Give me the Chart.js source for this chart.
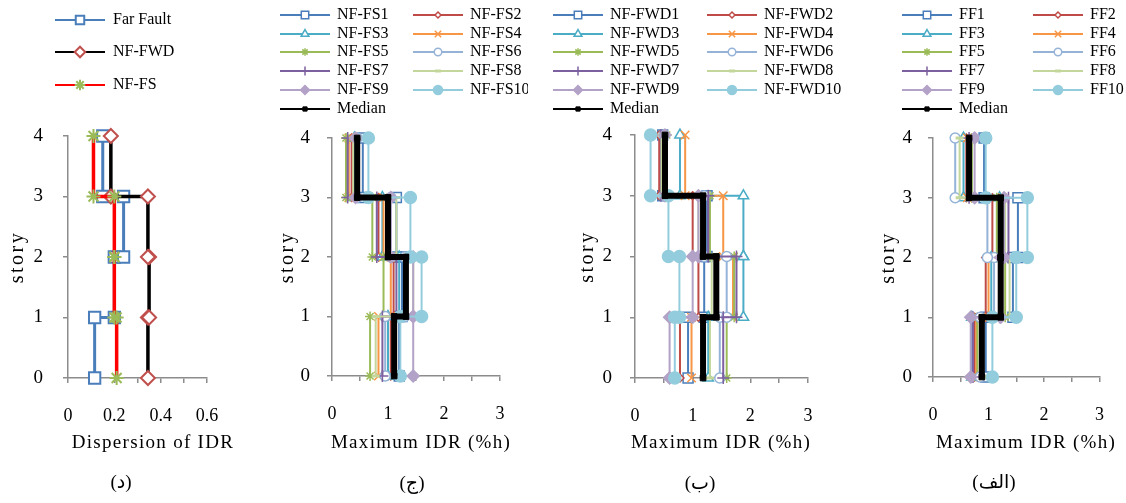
<!DOCTYPE html>
<html>
<head>
<meta charset="utf-8">
<script src="https://cdn.jsdelivr.net/npm/chart.js@4.4.0/dist/chart.umd.min.js"></script>
<style>
  body { margin: 0; background: #fff; width: 1126px; height: 503px; overflow: hidden; position: relative; }
  canvas { position: absolute; top: 0; }
</style>
</head>
<body>
<canvas id="pDisp" width="260" height="503" style="left:0px"></canvas>
<canvas id="pFS" width="290" height="503" style="left:260px"></canvas>
<canvas id="pFWD" width="310" height="503" style="left:550px"></canvas>
<canvas id="pFF" width="266" height="503" style="left:860px"></canvas>
<script>
// story levels (floor 0..4)
const stories = [0, 1, 2, 3, 4];

// panel (د): dispersion of IDR per story (story 1..4)
const dispFarFault = [0.115, 0.2, 0.24, 0.15];
const dispNFFWD = [0.345, 0.35, 0.345, 0.185];
const dispNFFS = [0.21, 0.2, 0.2, 0.11];

// panel (ج): NF-FS records, max IDR (%h) per story 1..4
const fsNames = ['NF-FS1', 'NF-FS2', 'NF-FS3', 'NF-FS4', 'NF-FS5', 'NF-FS6', 'NF-FS7', 'NF-FS8', 'NF-FS9', 'NF-FS10'];
const fsIDR = [
  [1.2, 1.25, 1.15, 0.55],
  [1.05, 1.1, 0.83, 0.35],
  [1.0, 1.2, 0.9, 0.4],
  [0.83, 1.05, 0.92, 0.3],
  [0.68, 0.92, 0.72, 0.25],
  [0.95, 1.3, 1.05, 0.45],
  [0.9, 1.15, 0.8, 0.28],
  [0.78, 1.45, 1.15, 0.38],
  [1.45, 1.45, 1.05, 0.42],
  [1.22, 1.6, 1.4, 0.65]
];
const fsMedian = [1.11, 1.32, 1.0, 0.45];

// panel (ب): NF-FWD records
const fwdNames = ['NF-FWD1', 'NF-FWD2', 'NF-FWD3', 'NF-FWD4', 'NF-FWD5', 'NF-FWD6', 'NF-FWD7', 'NF-FWD8', 'NF-FWD9', 'NF-FWD10'];
const fwdIDR = [
  [0.92, 1.2, 1.25, 0.48],
  [0.78, 1.1, 1.0, 0.42],
  [1.27, 1.88, 1.88, 0.78],
  [0.98, 1.7, 1.53, 0.87],
  [1.59, 1.72, 1.3, 0.55],
  [1.47, 1.59, 1.2, 0.5],
  [1.53, 1.76, 1.27, 0.45],
  [1.3, 1.33, 1.1, 0.46],
  [0.6, 1.0, 1.1, 0.52],
  [0.69, 0.77, 0.58, 0.27]
];
const fwdMedian = [1.18, 1.41, 1.18, 0.52];

// panel (الف): far fault records
const ffNames = ['FF1', 'FF2', 'FF3', 'FF4', 'FF5', 'FF6', 'FF7', 'FF8', 'FF9', 'FF10'];
const ffIDR = [
  [0.95, 1.44, 1.53, 0.92],
  [0.75, 0.95, 1.07, 0.6],
  [0.7, 1.05, 1.2, 0.55],
  [0.78, 1.0, 1.25, 0.62],
  [0.8, 1.3, 1.15, 0.7],
  [0.85, 1.1, 0.98, 0.4],
  [0.72, 1.2, 1.36, 0.65],
  [0.9, 1.38, 1.3, 0.48],
  [0.68, 1.22, 1.28, 0.75],
  [1.07, 1.5, 1.7, 0.95]
];
const ffMedian = [0.88, 1.22, 1.22, 0.65];

// marker / colour styles for the 10 records
const recStyles = [
  { c: '#4A7EBB', ps: 'rect', r: 7, fill: '#fff' },
  { c: '#BE4B48', ps: 'rectRot', r: 4, fill: '#fff' },
  { c: '#4BACC6', ps: 'triangle', r: 6, fill: '#fff' },
  { c: '#F79646', ps: 'crossRot', r: 6, fill: '#F79646' },
  { c: '#9BBB59', ps: 'star', r: 5, fill: '#9BBB59' },
  { c: '#95B3D7', ps: 'circle', r: 5, fill: '#fff' },
  { c: '#7D60A0', ps: 'cross', r: 6, fill: '#7D60A0' },
  { c: '#C3D69B', ps: 'line', r: 4, fill: '#C3D69B', bw: 3 },
  { c: '#B3A2C7', ps: 'rectRot', r: 6, fill: '#B3A2C7' },
  { c: '#93CDDD', ps: 'circle', r: 6, fill: '#93CDDD' }
];

const FONT = '"Liberation Serif", "Times New Roman", serif';
const AXIS = '#8c8c8c';

// story drift is constant over a story: draw it as a step profile
function stepPoints(vals) {
  const pts = [];
  vals.forEach((v, i) => {
    pts.push({ x: v, y: stories[i] });
    pts.push({ x: v, y: stories[i + 1] });
  });
  return pts;
}

// legend, axis titles (spaced like the original) and panel caption
const panelDeco = {
  id: 'panelDeco',
  afterDraw(chart, args, o) {
    const ctx = chart.ctx;
    ctx.save();
    ctx.beginPath();
    ctx.rect(0, 0, o.clipX || chart.width, 125);
    ctx.clip();
    o.items.forEach((it, i) => {
      const ds = chart.data.datasets[it.ds];
      const col = i % o.cols, row = Math.floor(i / o.cols);
      const x0 = o.colX[col], y = o.rowY[row];
      ctx.strokeStyle = ds.borderColor;
      ctx.lineWidth = 2;
      ctx.beginPath();
      ctx.moveTo(x0, y);
      ctx.lineTo(x0 + o.lineLen, y);
      ctx.stroke();
      ctx.strokeStyle = ds.pointBorderColor;
      ctx.fillStyle = ds.pointBackgroundColor;
      ctx.lineWidth = ds.pointBorderWidth;
      Chart.helpers.drawPoint(ctx, {
        pointStyle: ds.pointStyle,
        radius: ds.pointRadius * o.mk,
        borderWidth: ds.pointBorderWidth,
        rotation: 0
      }, x0 + o.lineLen / 2, y);
      ctx.fillStyle = '#000';
      ctx.font = '16px ' + FONT;
      ctx.textBaseline = 'middle';
      ctx.textAlign = 'left';
      ctx.fillText(it.text, x0 + o.lineLen + o.gap, y);
    });
    ctx.restore();

    const xs = chart.scales.x, ys = chart.scales.y;
    ctx.save();
    ctx.fillStyle = '#000';
    ctx.textAlign = 'center';
    ctx.textBaseline = 'middle';
    ctx.font = '19px ' + FONT;
    ctx.letterSpacing = '1.3px';
    ctx.fillText(xs.options.title.text, o.xTitleX, 443);
    ctx.save();
    ctx.translate(o.yTitleX, (ys.top + ys.bottom) / 2);
    ctx.rotate(-Math.PI / 2);
    ctx.font = '20px ' + FONT;
    ctx.letterSpacing = '2.5px';
    ctx.fillText(ys.options.title.text, 0, 0);
    ctx.restore();
    ctx.letterSpacing = '0px';
    ctx.font = '19px "Liberation Serif", "DejaVu Sans", serif';
    ctx.fillText(o.caption.text, o.caption.x, o.caption.y);
    ctx.restore();
  }
};

function makePanel(id, p) {
  const ctx = document.getElementById(id);
  const canvasW = ctx.width;
  return new Chart(ctx, {
    type: 'scatter',
    data: { datasets: p.datasets },
    options: {
      responsive: false,
      animation: false,
      devicePixelRatio: 1,
      layout: { padding: { left: 0, right: canvasW - p.right, top: p.top, bottom: 0 } },
      elements: { line: { tension: 0 } },
      plugins: {
        legend: { display: false },
        tooltip: { enabled: false },
        panelDeco: p.deco
      },
      scales: {
        x: {
          type: 'linear',
          min: 0,
          max: p.xMax,
          afterFit: (s) => { s.height = 503 - p.bottom; },
          border: { display: true, color: AXIS, width: 1.5 },
          grid: { drawOnChartArea: false, drawTicks: true, tickLength: 5, color: AXIS, lineWidth: 1.5 },
          ticks: {
            stepSize: p.xStep,
            autoSkip: false,
            maxRotation: 0,
            padding: 22,
            color: '#000',
            font: { family: FONT, size: 18 },
            callback: p.xLabel
          },
          title: { display: false, text: p.xTitle }
        },
        y: {
          type: 'linear',
          min: 0,
          max: 4,
          afterFit: (s) => { s.width = p.left; },
          border: { display: true, color: AXIS, width: 1.5 },
          grid: { drawOnChartArea: false, drawTicks: true, tickLength: 5, color: AXIS, lineWidth: 1.5 },
          ticks: {
            stepSize: 1,
            padding: p.yPad,
            color: '#000',
            font: { family: FONT, size: 19 }
          },
          title: { display: false, text: 'story' }
        }
      }
    },
    plugins: [panelDeco]
  });
}

function recordPanel(names, values, median) {
  const ds = values.map((v, i) => {
    const s = recStyles[i];
    return {
      label: names[i],
      data: stepPoints(v),
      showLine: true,
      borderColor: s.c,
      borderWidth: 2,
      pointStyle: s.ps,
      pointRadius: s.r,
      pointBorderColor: s.c,
      pointBackgroundColor: s.fill,
      pointBorderWidth: s.bw || 1.5,
      clip: false,
      order: 10 - i
    };
  });
  ds.push({
    label: 'Median',
    data: stepPoints(median),
    showLine: true,
    borderColor: '#000',
    borderWidth: 6,
    pointStyle: 'rect',
    pointRadius: 4,
    pointBorderColor: '#000',
    pointBackgroundColor: '#000',
    pointBorderWidth: 1,
    clip: false,
    order: 0
  });
  return ds;
}

function recordItems(names) {
  return names.map((n, i) => ({ ds: i, text: n })).concat([{ ds: 10, text: 'Median' }]);
}

const intLabel = (v) => (Math.abs(v - Math.round(v)) < 1e-6 ? String(Math.round(v)) : '');
const legendRows = [15, 34, 52, 71, 90, 109];

// panel (د)
makePanel('pDisp', {
  left: 68, right: 207, top: 136, bottom: 378, yPad: 20,
  xMax: 0.6, xStep: 0.1,
  xLabel: (v) => (Math.round(v * 10) % 2 === 0 ? String(Number(v.toFixed(1))) : ''),
  xTitle: 'Dispersion of IDR',
  datasets: [
    { label: 'Far Fault', data: stepPoints(dispFarFault), showLine: true, borderColor: '#4A7EBB', borderWidth: 3,
      pointStyle: 'rect', pointRadius: 8, pointBorderColor: '#4A7EBB', pointBackgroundColor: '#fff', pointBorderWidth: 2, clip: false, order: 3 },
    { label: 'NF-FWD', data: stepPoints(dispNFFWD), showLine: true, borderColor: '#000', borderWidth: 3.5,
      pointStyle: 'rectRot', pointRadius: 7, pointBorderColor: '#C0504D', pointBackgroundColor: '#fff', pointBorderWidth: 2, clip: false, order: 2 },
    { label: 'NF-FS', data: stepPoints(dispNFFS), showLine: true, borderColor: '#FF0000', borderWidth: 3.5,
      pointStyle: 'star', pointRadius: 7, pointBorderColor: '#9BBB59', pointBackgroundColor: '#9BBB59', pointBorderWidth: 2, clip: false, order: 1 }
  ],
  deco: {
    items: [{ ds: 0, text: 'Far Fault' }, { ds: 1, text: 'NF-FWD' }, { ds: 2, text: 'NF-FS' }],
    cols: 1, colX: [55], rowY: [20, 52, 85], lineLen: 50, gap: 8, mk: 0.75,
    xTitleX: 153, yTitleX: 18,
    caption: { text: '(د)', x: 121, y: 483 }
  }
});

// panel (ج)
makePanel('pFS', {
  left: 72, right: 240, top: 138, bottom: 376, yPad: 17,
  xMax: 3, xStep: 0.5, xLabel: intLabel,
  xTitle: 'Maximum IDR (%h)',
  datasets: recordPanel(fsNames, fsIDR, fsMedian),
  deco: {
    items: recordItems(fsNames),
    cols: 2, colX: [20, 153], rowY: legendRows, lineLen: 50, gap: 7, mk: 0.75, clipX: 268,
    xTitleX: 161, yTitleX: 28,
    caption: { text: '(ج)', x: 152, y: 484 }
  }
});

// panel (ب)
makePanel('pFWD', {
  left: 85, right: 258, top: 135, bottom: 378, yPad: 18,
  xMax: 3, xStep: 0.5, xLabel: intLabel,
  xTitle: 'Maximum IDR (%h)',
  datasets: recordPanel(fwdNames, fwdIDR, fwdMedian),
  deco: {
    items: recordItems(fwdNames),
    cols: 2, colX: [3, 157], rowY: legendRows, lineLen: 50, gap: 7, mk: 0.75, clipX: 293,
    xTitleX: 171, yTitleX: 38,
    caption: { text: '(ب)', x: 150, y: 484 }
  }
});

// panel (الف)
makePanel('pFF', {
  left: 73, right: 247, top: 138, bottom: 377, yPad: 16,
  xMax: 3, xStep: 0.5, xLabel: intLabel,
  xTitle: 'Maximum IDR (%h)',
  datasets: recordPanel(ffNames, ffIDR, ffMedian),
  deco: {
    items: recordItems(ffNames),
    cols: 2, colX: [42, 173], rowY: legendRows, lineLen: 50, gap: 7, mk: 0.75,
    xTitleX: 166, yTitleX: 29,
    caption: { text: '(الف)', x: 134, y: 483 }
  }
});
</script>
</body>
</html>
